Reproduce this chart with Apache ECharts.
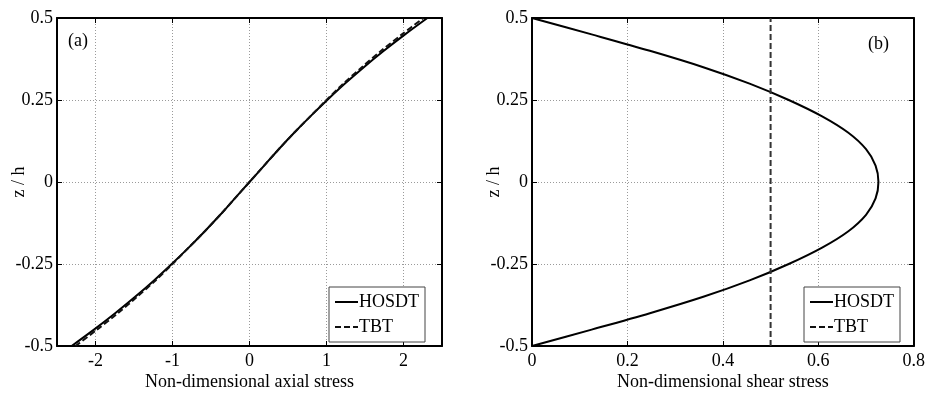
<!DOCTYPE html>
<html>
<head>
<meta charset="utf-8">
<script src="https://cdn.jsdelivr.net/npm/echarts@6/dist/echarts.min.js"></script>
<style>
  html, body { margin: 0; padding: 0; background: #fff; }
  #chart { width: 928px; height: 396px; }
</style>
</head>
<body>
<div id="chart"></div>
<script>
// z / h levels (every 0.05)
const zLevels = [-0.5, -0.45, -0.4, -0.35, -0.3, -0.25, -0.2, -0.15, -0.1, -0.05, 0,
  0.05, 0.1, 0.15, 0.2, 0.25, 0.3, 0.35, 0.4, 0.45, 0.5];

// (a) axial stress
const axialHOSDT = [-2.31, -2.02, -1.745, -1.485, -1.24, -1.01, -0.79, -0.58, -0.38, -0.19, 0,
  0.19, 0.38, 0.58, 0.79, 1.01, 1.24, 1.485, 1.745, 2.02, 2.31];
const axialTBT = [-2.26, -1.98, -1.71, -1.46, -1.22, -1.0, -0.79, -0.58, -0.38, -0.19, 0,
  0.19, 0.38, 0.58, 0.79, 1.0, 1.22, 1.46, 1.71, 1.98, 2.26];

// (b) shear stress
const shearHOSDT = [0, 0.125, 0.247, 0.359, 0.456, 0.538, 0.608, 0.663, 0.7, 0.72, 0.726,
  0.72, 0.7, 0.663, 0.608, 0.538, 0.456, 0.359, 0.247, 0.125, 0];
const tbtZ = [-0.5, 0.5];
const shearTBT = [0.5, 0.5];

const axialTicks = [-2, -1, 0, 1, 2];
const seriesNames = ["HOSDT", "TBT"];

const FONT = "'Liberation Serif', 'Times New Roman', serif";
const FS = 18;
const pairs = (xs, zs) => xs.map((x, i) => [x, zs[i]]);

const chart = echarts.init(document.getElementById("chart"), null, { renderer: "canvas" });

const grids = [
  { left: 57, right: 486, top: 18, bottom: 42 },
  { left: 532, right: 14, top: 18, bottom: 42 },
];

const frameLine = { show: true, onZero: false, lineStyle: { color: "#000", width: 2 } };
const innerTick = { show: true, inside: true, length: 5, lineStyle: { color: "#000", width: 1 } };
const dotted = { show: true, lineStyle: { color: "#9a9a9a", width: 1, type: [1, 2] } };
const labelStyle = { color: "#000", fontFamily: FONT, fontSize: FS };

function xAxes(gridIndex, min, max, extra, name) {
  const bottom = Object.assign({
    type: "value", gridIndex, min, max, position: "bottom",
    name, nameLocation: "middle", nameGap: 27, nameMoveOverlap: false,
    nameTextStyle: { color: "#000", fontFamily: FONT, fontSize: FS },
    axisLine: frameLine,
    axisTick: Object.assign({}, innerTick, extra.tick || {}),
    axisLabel: Object.assign({ margin: 6 }, labelStyle, extra.label || {}),
    splitLine: dotted,
  }, extra.axis || {});
  const top = Object.assign({
    type: "value", gridIndex, min, max, position: "top",
    axisLine: frameLine,
    axisTick: Object.assign({}, innerTick, extra.tick || {}),
    axisLabel: { show: false },
    splitLine: { show: false },
  }, extra.axis || {});
  return [bottom, top];
}

function yAxes(gridIndex) {
  const base = { type: "value", gridIndex, min: -0.5, max: 0.5, interval: 0.25 };
  return [
    Object.assign({}, base, {
      position: "left",
      name: "z / h", nameLocation: "middle", nameGap: 29, nameRotate: 90, nameMoveOverlap: false,
      nameTextStyle: { color: "#000", fontFamily: FONT, fontSize: FS },
      axisLine: frameLine, axisTick: innerTick,
      axisLabel: Object.assign({ margin: 4 }, labelStyle),
      splitLine: dotted,
    }),
    Object.assign({}, base, {
      position: "right",
      axisLine: frameLine, axisTick: innerTick,
      axisLabel: { show: false }, splitLine: { show: false },
    }),
  ];
}

const axialExtra = {
  tick: { customValues: axialTicks },
  label: { customValues: axialTicks },
};
const shearExtra = { axis: { interval: 0.2 } };

const xAxis = [
  ...xAxes(0, -2.5, 2.5, axialExtra, "Non-dimensional axial stress"),
  ...xAxes(1, 0, 0.8, shearExtra, "Non-dimensional shear stress"),
];
const yAxis = [...yAxes(0), ...yAxes(1)];

const solid = { color: "#000", width: 2, type: "solid" };
const dashed = { color: "#111", width: 2, type: [6, 3] };

function legendAt(left) {
  return {
    left, top: 287, orient: "vertical",
    data: seriesNames,
    itemWidth: 23, itemHeight: 14, itemGap: 7,
    padding: [6, 6, 6, 5],
    borderColor: "#444", borderWidth: 1,
    backgroundColor: "#fff",
    itemStyle: { color: "transparent", borderWidth: 0, opacity: 0 },
    textStyle: { color: "#000", fontFamily: FONT, fontSize: FS, padding: [0, 0, 0, -4] },
    selectedMode: false,
  };
}

const option = {
  backgroundColor: "#fff",
  animation: false,
  grid: grids,
  xAxis,
  yAxis,
  legend: [legendAt(329), legendAt(804)],
  graphic: [
    { type: "text", left: 68, top: 32, style: { text: "(a)", fill: "#000", font: FS + "px " + FONT } },
    { type: "text", left: 868, top: 35, style: { text: "(b)", fill: "#000", font: FS + "px " + FONT } },
  ],
  series: [
    { name: "HOSDT", type: "line", xAxisIndex: 0, yAxisIndex: 0, data: pairs(axialHOSDT, zLevels),
      showSymbol: false, symbol: "none", smooth: 0.3, lineStyle: solid, color: "#000", z: 3 },
    { name: "TBT", type: "line", xAxisIndex: 0, yAxisIndex: 0, data: pairs(axialTBT, zLevels),
      showSymbol: false, symbol: "none", smooth: 0.3, lineStyle: dashed, color: "#000", z: 4 },
    { name: "HOSDT", type: "line", xAxisIndex: 2, yAxisIndex: 2, data: pairs(shearHOSDT, zLevels),
      showSymbol: false, symbol: "none", smooth: 0.3, lineStyle: solid, color: "#000", z: 3 },
    { name: "TBT", type: "line", xAxisIndex: 2, yAxisIndex: 2, data: pairs(shearTBT, tbtZ),
      showSymbol: false, symbol: "none", lineStyle: { color: "#333", width: 2, type: [6, 3] }, color: "#000", z: 4 },
  ],
};

chart.setOption(option);
</script>
</body>
</html>
